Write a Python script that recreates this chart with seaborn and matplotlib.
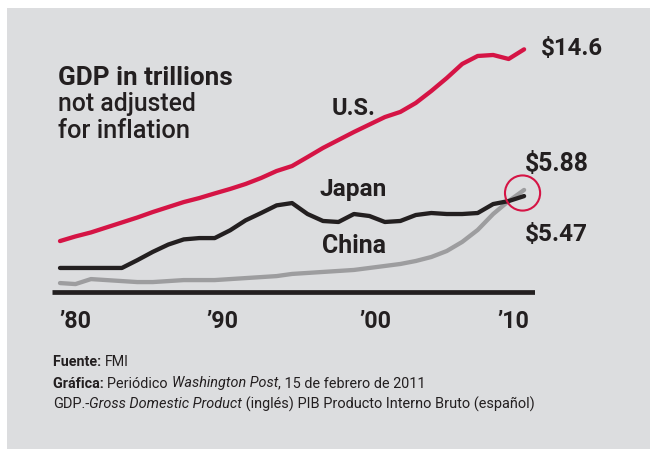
import matplotlib
matplotlib.use("Agg")
import matplotlib.pyplot as plt
import seaborn as sns
import pandas as pd
from matplotlib.patches import Rectangle

# ---------------- data (trillions of US$) ----------------
years = list(range(1980, 2011))
us = [3.05, 3.33, 3.57, 3.87, 4.17, 4.47, 4.80, 5.10, 5.40, 5.64,
      5.92, 6.19, 6.49, 6.85, 7.27, 7.57, 8.11, 8.66, 9.14, 9.62,
      10.07, 10.52, 10.83, 11.37, 12.09, 12.87, 13.72, 14.20, 14.26, 14.02,
      14.60]
japan = [1.43, 1.43, 1.43, 1.43, 1.43, 1.90, 2.40, 2.84, 3.15, 3.23,
         3.23, 3.70, 4.30, 4.74, 5.20, 5.34, 4.68, 4.26, 4.20, 4.68,
         4.56, 4.20, 4.26, 4.62, 4.74, 4.68, 4.68, 4.74, 5.28, 5.46,
         5.76]
china = [0.52, 0.46, 0.76, 0.70, 0.64, 0.58, 0.58, 0.64, 0.70, 0.70,
         0.70, 0.76, 0.82, 0.88, 0.94, 1.07, 1.13, 1.19, 1.25, 1.31,
         1.43, 1.55, 1.67, 1.85, 2.09, 2.45, 3.00, 3.72, 4.68, 5.46,
         6.13]
countries = ["China", "Japan", "U.S."]
tick_pos = [1981.0, 1990.5, 2000.4, 2009.3]
tick_labels = ["\u201980", "\u201990", "\u201900", "\u201910"]
end_labels = ["$14.6", "$5.88", "$5.47"]

# ---------------- style ----------------
sns.set_style("white")
FAMILY = ["Roboto", "Liberation Sans", "DejaVu Sans"]
plt.rcParams["font.family"] = FAMILY

W, H = 651, 449
RED = "#d51445"
BLACK = "#231f20"
GRAY = "#9d9d9f"
BG = "#dcdddf"

fig = plt.figure(figsize=(W / 100, H / 100), dpi=100)
fig.patch.set_facecolor("white")
fig.patches.append(Rectangle((7 / W, 0), (W - 8) / W, 1 - 8 / H,
                             transform=fig.transFigure, facecolor=BG,
                             edgecolor="none", zorder=-10))

# axes: x 52..535 px, y-axis 0 at 291.7 px, 16.6 px per trillion
ymin, ymax = -0.5, 15.5
pxu = 16.6
bottom_px = 291.7 + (-ymin) * pxu
top_px = 291.7 - ymax * pxu
ax = fig.add_axes([52 / W, 1 - bottom_px / H, (535 - 52) / W, (bottom_px - top_px) / H])
ax.patch.set_alpha(0)

df = pd.DataFrame({
    "year": years * 3,
    "gdp": china + japan + us,
    "country": ["China"] * len(years) + ["Japan"] * len(years) + ["U.S."] * len(years),
})
sns.lineplot(data=df, x="year", y="gdp", hue="country", hue_order=countries,
             palette={"China": GRAY, "Japan": BLACK, "U.S.": RED},
             linewidth=3.1, legend=False, ax=ax,
             solid_capstyle="round", solid_joinstyle="round")
ax.axhline(0, color=BLACK, lw=3.4, solid_capstyle="butt", zorder=5)

# circle around the crossing point
ax.scatter([years[-1] - 0.1], [(china[-1] + japan[-1]) / 2], s=640,
           facecolors="none", edgecolors=RED, linewidths=1.5, zorder=6,
           clip_on=False)

x0 = 1980 - 8 / 15.47
ax.set_xlim(x0, x0 + (535 - 52) / 15.47)
ax.set_ylim(ymin, ymax)
for s in ax.spines.values():
    s.set_visible(False)
ax.set_yticks([])
ax.set_xlabel("")
ax.set_ylabel("")
ax.set_xticks(tick_pos)
ax.set_xticklabels(tick_labels)
ax.tick_params(axis="x", length=0, pad=(328 - bottom_px) * 72 / 100)

renderer = fig.canvas.get_renderer()


def ink_w(s, size, **kw):
    t = fig.text(0, 0, s, fontsize=size, **kw)
    w = t.get_window_extent(renderer).width
    t.remove()
    return w


def advance(s, size, **kw):
    return ink_w("|" + s + "|", size, **kw) - ink_w("||", size, **kw)


def fit_text(s, left_px, base_px, width_px, weight="bold", color=BLACK, style="normal"):
    kw = dict(weight=weight, style=style)
    size = 20 * width_px / ink_w(s, 20, **kw)
    fig.text(left_px / W, 1 - base_px / H, s, fontsize=size, ha="left",
             va="baseline", color=color, **kw)
    return size


def rich_line(pieces, left_px, base_px, width_px, color=BLACK):
    s0 = 10
    total = sum(advance(p, s0, weight=w, style=st) for p, w, st in pieces)
    size = s0 * width_px / total
    x = left_px
    for p, w, st in pieces:
        fig.text(x / W, 1 - base_px / H, p, fontsize=size, weight=w, style=st,
                 ha="left", va="baseline", color=color)
        x += advance(p, size, weight=w, style=st)


# tick label fonts
tsize = 20 * 32 / ink_w(tick_labels[0], 20, weight="bold")
for lbl in ax.get_xticklabels():
    lbl.set_fontsize(tsize)
    lbl.set_fontweight("bold")
    lbl.set_color(BLACK)
    lbl.set_va("baseline")

# title block
fit_text("GDP in trillions", 58, 85, 175, weight="bold")
fit_text("not adjusted", 58, 111, 138, weight="medium")
fit_text("for inflation", 58, 137.5, 132, weight="medium")

# series labels
fit_text("U.S.", 332, 115, 44)
fit_text("Japan", 320, 196, 67)
fit_text("China", 322, 253, 64)
fit_text(end_labels[0], 541, 55, 62)
fit_text(end_labels[1], 525, 171.5, 64)
fit_text(end_labels[2], 525, 240.5, 63)

# footer
rich_line([("Fuente: ", "bold", "normal"), ("FMI", "normal", "normal")], 53, 366.5, 76)
rich_line([("Gr\u00e1fica: ", "bold", "normal"), ("Peri\u00f3dico ", "normal", "normal"),
           ("Washington Post", "normal", "italic"),
           (", 15 de febrero de 2011", "normal", "normal")], 53, 387.5, 371)
rich_line([("GDP.-", "normal", "normal"), ("Gross Domestic Product", "normal", "italic"),
           (" (ingl\u00e9s) PIB Producto Interno Bruto (espa\u00f1ol)", "normal", "normal")],
          53, 408.5, 480)

fig.savefig("out.png", dpi=100, facecolor=fig.get_facecolor())
